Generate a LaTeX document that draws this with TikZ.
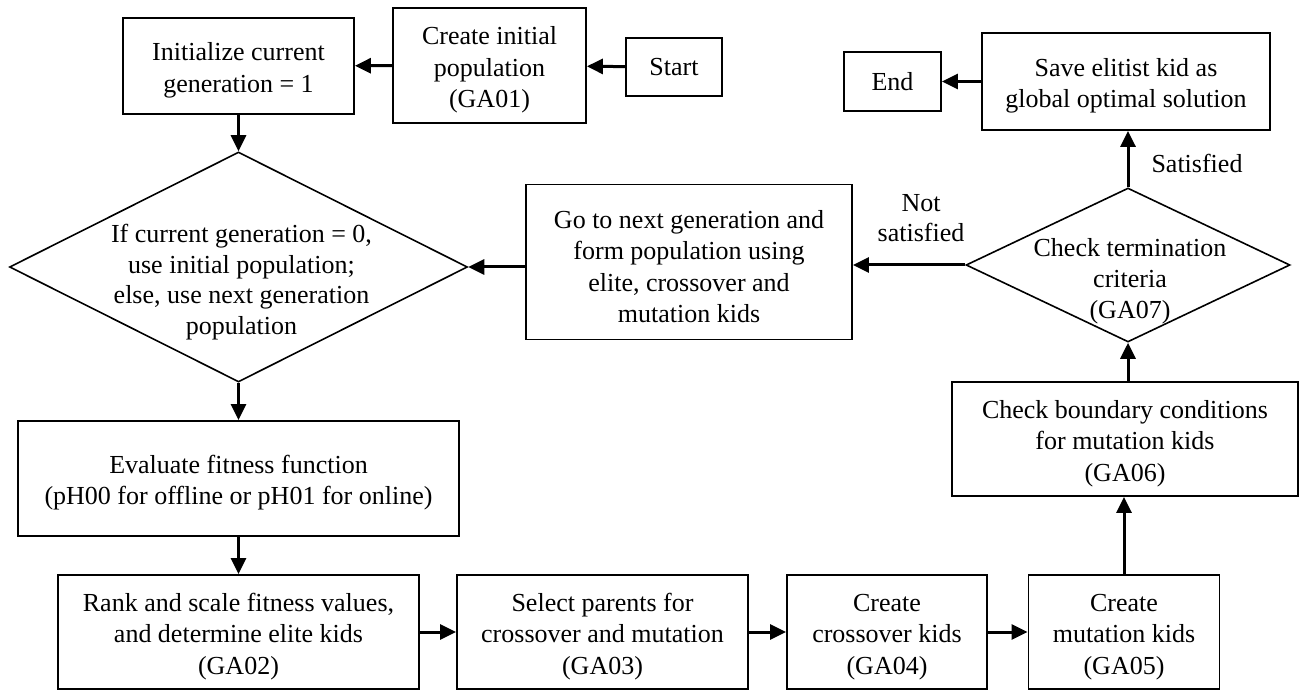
\documentclass[tikz,border=0pt]{standalone}
\usepackage{fontspec}
\setmainfont{Liberation Serif}
\usetikzlibrary{arrows.meta,shapes.geometric}
% tall strut that lowers the text block of a box a little
\newcommand{\lowstrut}{\rule{0pt}{27pt}}
\begin{document}
\begin{tikzpicture}[x=1pt,y=-1pt,
  every node/.style={font=\fontsize{26}{31.5}\selectfont, align=center, inner sep=0pt},
  box/.style={draw, line width=1.8pt, rectangle},
  decision/.style={draw, line width=1.6pt, diamond},
  arr/.style={line width=3pt, -{Triangle[length=16pt,width=15pt]}}]
\useasboundingbox (0,0) rectangle (1299,692);

% top row
\node[box, minimum width=231pt, minimum height=96pt]  (init)   at (238.5,66)  {\lowstrut Initialize current\\generation = 1};
\node[box, minimum width=193pt, minimum height=115pt] (create) at (489.5,65.5) {\lowstrut Create initial\\population\\(GA01)};
\node[box, minimum width=96pt,  minimum height=58pt]  (start)  at (674,67)    {Start};
\node[box, minimum width=97pt,  minimum height=59pt]  (endb)   at (892.5,81.5) {End};
\node[box, minimum width=288pt, minimum height=97pt]  (save)   at (1126,81.5) {\lowstrut Save elitist kid as\\global optimal solution};

% middle row
\node[decision, minimum width=458pt, minimum height=230pt,
  label={[xshift=3pt,yshift=-15pt,font=\fontsize{26}{30.5}\selectfont]center:If current generation = 0,\\use initial population;\\else, use next generation\\population}] (d1) at (238.5,267) {};
\node[box, minimum width=326pt, minimum height=155pt] (gonext) at (689,262) {\lowstrut Go to next generation and\\form population using\\elite, crossover and\\mutation kids};
\node[decision, minimum width=324pt, minimum height=154pt,
  label={[xshift=2pt,yshift=-16pt,font=\fontsize{26}{31}\selectfont]center:Check termination\\criteria\\(GA07)}] (term) at (1128,265) {};

% lower part
\node[box, minimum width=346pt, minimum height=114pt] (bound) at (1125,439) {\lowstrut Check boundary conditions\\for mutation kids\\(GA06)};
\node[box, minimum width=441pt, minimum height=115pt] (eval)  at (238.5,478.5) {\lowstrut Evaluate fitness function\\(pH00 for offline or pH01 for online)};

% bottom row
\node[box, minimum width=361pt, minimum height=114pt] (rank)   at (238.5,632) {\lowstrut Rank and scale fitness values,\\and determine elite kids\\(GA02)};
\node[box, minimum width=291pt, minimum height=114pt] (select) at (602.5,632) {\lowstrut Select parents for\\crossover and mutation\\(GA03)};
\node[box, minimum width=200pt, minimum height=114pt] (cross)  at (887,632)   {\lowstrut Create\\crossover kids\\(GA04)};
\node[box, minimum width=191pt, minimum height=114pt] (mutk)   at (1124,632)  {\lowstrut Create\\mutation kids\\(GA05)};

% connectors
\draw[arr] (start) -- (create);
\draw[arr] (create) -- (init);
\draw[arr] (init) -- (d1.north);
\draw[arr] (d1.south) -- (eval);
\draw[arr] (eval) -- (rank);
\draw[arr] (rank) -- (select);
\draw[arr] (select) -- (cross);
\draw[arr] (cross) -- (mutk);
\draw[arr] (mutk.north) -- (mutk.north |- bound.south);
\draw[arr] (term.south |- bound.north) -- (term.south);
\draw[arr] (term.north) -- (term.north |- save.south);
\draw[arr] (save) -- (endb);
\draw[arr] (term.west) -- (term.west -| gonext.east);
\draw[arr] (gonext.west |- d1.east) -- (d1.east);

% branch labels
\node[font=\fontsize{26}{30}\selectfont] (notsat) at (921,218) {Not\\satisfied};
\node (sat) at (1197,163) {Satisfied};
\end{tikzpicture}
\end{document}
